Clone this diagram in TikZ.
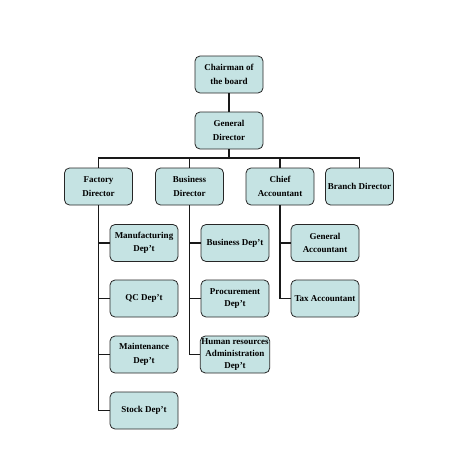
\documentclass[tikz,border=0pt]{standalone}
\usepackage{fontspec}
\setmainfont{Liberation Serif}
\usepackage{xcolor}
\usepackage{tikz}
\usetikzlibrary{positioning, calc}

\definecolor{boxfill}{RGB}{197,227,227}
\tikzset{
  orgbox/.style={draw=black!85, line width=0.8pt, fill=boxfill, rounded corners=5pt,
    minimum width=68pt, minimum height=37pt, inner sep=1pt, align=center,
    font=\fontsize{9}{13.5}\selectfont\bfseries},
  link/.style={line width=1.7pt, black!90}
}

\begin{document}
\begin{tikzpicture}[x=1pt, y=-1pt]
        \useasboundingbox (0,0) rectangle (453,456);

        % top of the chart
        \node[orgbox] (chair) at (229,74.5) {Chairman of\\the board};
        \node[orgbox] (gd) at (229,130.5) {General\\Director};
        \coordinate (bus) at (229,158);

        % directors
        \foreach \name/\x/\val in {factory/98.5/{Factory\\Director}, business/189.5/{Business\\Director},
                                   chief/280/{Chief\\Accountant}, branch/359.5/{Branch Director}} {
          \node[orgbox] (\name) at (\x,186.5) {\val};
        }

        % departments
        \foreach \i/\y/\val in {1/243/{Manufacturing\\Dep’t}, 2/298.5/{QC Dep’t},
                                3/354.5/{Maintenance\\Dep’t}, 4/410.5/{Stock Dep’t}} {
          \node[orgbox] (fac\i) at (144,\y) {\val};
        }
        \foreach \i/\y/\val in {1/243/{Business Dep’t}, 2/298.5/{Procurement\\Dep’t},
                                3/354.5/{Human resources\\Administration\\Dep’t}} {
          \node[orgbox, font=\fontsize{9}{12.3}\selectfont\bfseries] (bus\i) at (235,\y) {\val};
        }
        \foreach \i/\y/\val in {1/243/{General\\Accountant}, 2/298.5/{Tax Accountant}} {
          \node[orgbox] (acc\i) at (325,\y) {\val};
        }

        % connectors
        \draw[link] (chair) -- (gd);
        \draw[link] (gd) -- (bus);
        \foreach \name in {factory, business, chief, branch} {
          \draw[link] (bus) -| (\name);
        }
        \foreach \i in {1,...,4} {
          \draw[link] (factory.south) |- (fac\i.west);
        }
        \foreach \i in {1,...,3} {
          \draw[link] (business.south) |- (bus\i.west);
        }
        \foreach \i in {1,2} {
          \draw[link] (chief.south) |- (acc\i.west);
        }
      \end{tikzpicture}
\end{document}
